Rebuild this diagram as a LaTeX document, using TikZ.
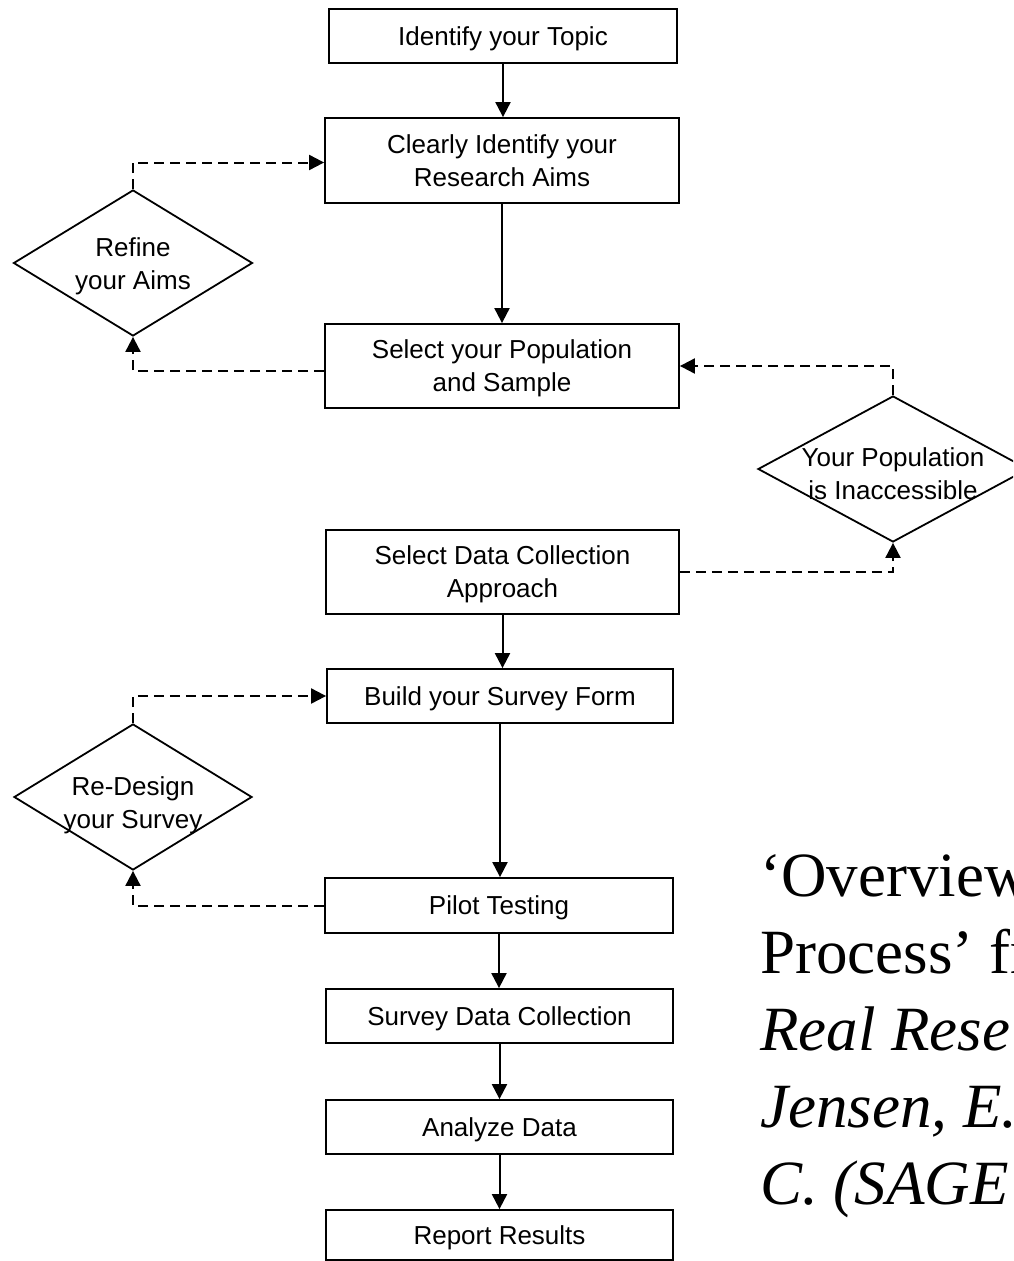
\documentclass[tikz,border=0pt]{standalone}
\usepackage{fontspec}
\setmainfont{Liberation Sans}
\newfontfamily\citefont{Liberation Serif}
\usetikzlibrary{shapes.geometric,arrows.meta,calc}

\begin{document}
\begin{tikzpicture}[x=1pt,y=-1pt,
  every node/.style={font=\fontsize{26}{33}\selectfont},
  stepbox/.style={draw,line width=1.8pt,rectangle,inner sep=0pt,align=center,text depth=0pt},
  decision/.style={draw,line width=1.8pt,diamond,inner sep=0pt},
  flow/.style={line width=2pt,-{Triangle[length=15pt,width=15pt]}},
  loopback/.style={flow,dash pattern=on 10pt off 6pt},
  citeline/.style={anchor=base west,inner sep=0pt,font=\citefont\fontsize{63}{77}\selectfont}]
\useasboundingbox (0,0) rectangle (1013,1261);
\begin{scope}
\clip (0,0) rectangle (1013,1261);

% main sequence of steps
\node[stepbox,minimum width=348pt,minimum height=54pt] (topic)   at (503,36)    {Identify your Topic};
\node[stepbox,minimum width=354pt,minimum height=85pt] (aims)    at (502,160.5) {Clearly Identify your\\Research Aims};
\node[stepbox,minimum width=354pt,minimum height=84pt] (pop)     at (502,366)   {Select your Population\\and Sample};
\node[stepbox,minimum width=353pt,minimum height=84pt] (collect) at (502.5,572) {Select Data Collection\\Approach};
\node[stepbox,minimum width=346pt,minimum height=54pt] (build)   at (500,696)   {Build your Survey Form};
\node[stepbox,minimum width=348pt,minimum height=55pt] (pilot)   at (499,905.5) {Pilot Testing};
\node[stepbox,minimum width=347pt,minimum height=54pt] (survey)  at (499.5,1016) {Survey Data Collection};
\node[stepbox,minimum width=347pt,minimum height=54pt] (analyze) at (499.5,1127) {Analyze Data};
\node[stepbox,minimum width=347pt,minimum height=50pt] (report)  at (499.5,1235) {Report Results};

% decisions that send the process back
\node[decision,minimum width=239pt,minimum height=146pt,
      label={[align=center,yshift=-3pt]center:Refine\\your Aims}] (refine) at (133,263) {};
\node[decision,minimum width=270pt,minimum height=146pt,
      label={[align=center,yshift=-5pt]center:Your Population\\is Inaccessible}] (access) at (893,469) {};
\node[decision,minimum width=238pt,minimum height=146pt,
      label={[align=center,yshift=-8pt]center:Re-Design\\your Survey}] (redesign) at (133,797) {};

% forward arrows
\draw[flow] (topic.south)   -- (topic.south |- aims.north);
\draw[flow] (aims.south)    -- (aims.south |- pop.north);
\draw[flow] (collect.south) -- (collect.south |- build.north);
\draw[flow] (build.south)   -- (build.south |- pilot.north);
\draw[flow] (pilot.south)   -- (pilot.south |- survey.north);
\draw[flow] (survey.south)  -- (survey.south |- analyze.north);
\draw[flow] (analyze.south) -- (analyze.south |- report.north);

% feedback loops
\draw[loopback] ($(pop.west)+(0,5)$) -| (refine.south);
\draw[loopback] (refine.north) |- ($(aims.west)+(0,2)$);
\draw[loopback] (collect.east) -| (access.south);
\draw[loopback] (access.north) |- (pop.east);
\draw[loopback] (pilot.west) -| (redesign.south);
\draw[loopback] (redesign.north) |- (build.west);

% source note
\node[citeline] (c1) at (760,896)  {‘Overview};
\node[citeline] (c2) at (760,973)  {Process’ fr};
\node[citeline] (c3) at (760,1050) {\itshape Real Rese};
\node[citeline] (c4) at (760,1127) {\itshape Jensen, E.};
\node[citeline] (c5) at (760,1204) {\itshape C. (SAGE};
\end{scope}
\end{tikzpicture}
\end{document}
